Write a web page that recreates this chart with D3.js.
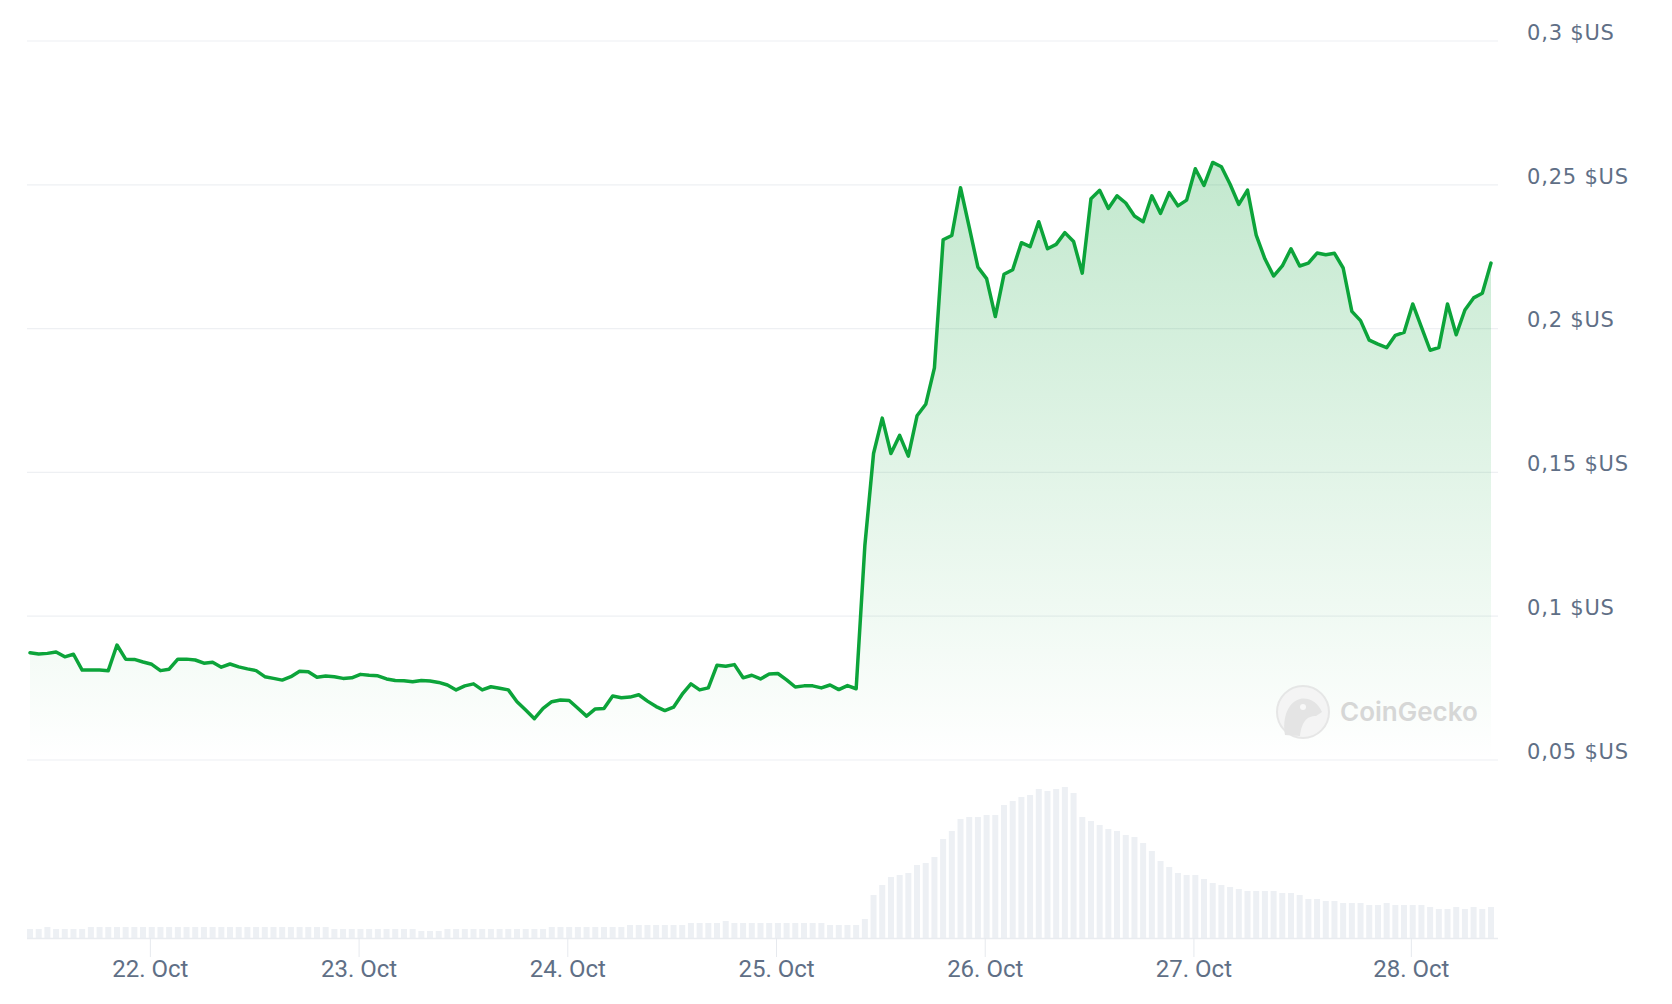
<!DOCTYPE html>
<html><head><meta charset="utf-8">
<script src="https://cdn.jsdelivr.net/npm/d3@7"></script>
<style>html,body{margin:0;padding:0;background:#fff;} svg{display:block}</style>
</head><body><svg id="chart" width="1672" height="1004"></svg>
<script>
// ---- data ----
const startTime = "2024-10-21T08:13:00Z"; // first hourly sample
const prices = [
0.0871,0.0867,0.0869,0.0874,0.0857,0.0866,0.0811,0.0811,0.0811,0.0809,
0.0898,0.0849,0.0848,0.0839,0.0831,0.0809,0.0814,0.0849,0.0849,0.0846,
0.0835,0.0838,0.0821,0.0832,0.0822,0.0815,0.0809,0.0788,0.0782,0.0776,
0.0788,0.0807,0.0805,0.0786,0.0790,0.0788,0.0782,0.0784,0.0796,0.0793,
0.0791,0.0780,0.0775,
0.0774,0.0770,0.0775,0.0773,0.0768,0.0759,0.0742,0.0756,0.0763,0.0742,
0.0753,0.0748,0.0742,0.0701,0.0672,0.0642,0.0678,0.0701,0.0707,0.0705,
0.0678,0.0651,0.0676,0.0677,0.0721,0.0715,0.0717,0.0725,0.0703,0.0684,
0.0670,0.0682,0.0727,0.0763,0.0742,0.0749,0.0828,0.0824,0.0830,0.0784,
0.0793,0.0780,0.0797,0.0799,0.0777,0.0752,0.0756,0.0756,0.0749,0.0759,
0.0743,0.0757,0.0746,
0.1244,0.1564,0.1687,0.1564,0.1627,0.1555,0.1695,0.1735,0.1862,0.2307,
0.2322,0.2488,0.2351,0.2212,0.2172,0.2040,0.2187,0.2203,0.2297,0.2283,
0.2370,0.2276,0.2291,0.2332,0.2301,0.2191,0.2450,0.2479,0.2416,0.2460,
0.2435,0.2390,0.2370,0.2460,0.2399,0.2471,0.2425,0.2445,0.2554,0.2496,
0.2576,0.2561,0.2500,0.2430,0.2480,0.2323,0.2241,0.2181,0.2216,0.2276,
0.2216,0.2226,0.2261,0.2255,0.2260,0.2209,0.2058,0.2026,0.1958,0.1944,
0.1932,0.1975,0.1985,0.2084,0.2003,0.1923,0.1932,0.2084,0.1977,0.2063,
0.2105,0.2121,0.2226
];
const volumes = [
9,9,11,9,9,9,9,
11,11,11,11,11,11,11,11,11,11,11,11,11,11,11,11,11,11,11,11,11,11,11,11,11,11,11,11,
9,9,9,9,9,9,9,9,9,9,
7,7,7,
9,9,9,9,9,9,9,9,9,9,9,9,
11,11,11,11,11,11,11,11,11,
13,13,13,13,13,13,13,
15,15,15,15,17,15,15,15,15,
15,15,15,15,15,15,15,
13,13,13,13,
19,43,53,61,63,65,73,75,81,99,
107,119,121,121,123,123,133,137,141,143,
149,147,149,151,145,121,117,113,109,107,
103,101,95,87,77,71,65,63,63,59,
55,53,51,49,47,47,47,47,45,45,
43,39,39,37,37,35,35,35,33,33,
35,33,33,33,33,31,29,29,31,29,
31,29,31
];
const yTickValues = [0.05, 0.1, 0.15, 0.2, 0.25, 0.3];
const yTickLabels = ["0,05 $US", "0,1 $US", "0,15 $US", "0,2 $US", "0,25 $US", "0,3 $US"];
const xTickDates = ["2024-10-21T22:00:00Z","2024-10-22T22:00:00Z","2024-10-23T22:00:00Z",
  "2024-10-24T22:00:00Z","2024-10-25T22:00:00Z","2024-10-26T22:00:00Z","2024-10-27T23:00:00Z"];
const xTickLabels = ["22. Oct","23. Oct","24. Oct","25. Oct","26. Oct","27. Oct","28. Oct"];
const watermarkText = "CoinGecko";

// ---- layout ----
const gridLeft = 27, gridRight = 1498;
const lineLeft = 30, lineRight = 1491;
const priceTop = 40.5, priceBottom = 759.5;
const volBase = 938, volTop = 787;
const green = "#0ca43a";

const svg = d3.select("#chart");
const t0 = new Date(startTime);
const times = prices.map((_, i) => d3.utcHour.offset(t0, i));
const data = prices.map((p, i) => ({t: times[i], p, v: volumes[i]}));

const x = d3.scaleUtc().domain([times[0], times[times.length - 1]]).range([lineLeft, lineRight]);
const y = d3.scaleLinear().domain([0.05, 0.3]).range([priceBottom, priceTop]);
const yv = d3.scaleLinear().domain([0, 151]).range([volBase, volTop]);

// gradient
const defs = svg.append("defs");
const grad = defs.append("linearGradient").attr("id", "areaGrad")
  .attr("gradientUnits", "userSpaceOnUse").attr("x1", 0).attr("x2", 0)
  .attr("y1", y(0.3)).attr("y2", y(0.05));
grad.append("stop").attr("offset", "0%").attr("stop-color", green).attr("stop-opacity", 0.3);
grad.append("stop").attr("offset", "100%").attr("stop-color", green).attr("stop-opacity", 0.0);

// gridlines + y labels
const yAxis = d3.axisRight(y).tickValues(yTickValues)
  .tickFormat((d, i) => yTickLabels[i]).tickSize(-(gridRight - gridLeft)).tickPadding(29);
const gy = svg.append("g").attr("transform", `translate(${gridRight},0)`).call(yAxis);
gy.select(".domain").remove();
gy.selectAll(".tick line").attr("stroke", "#eef0f3").attr("stroke-width", 1.2);
gy.selectAll(".tick text").attr("fill", "#5f6f86").attr("y", -8)
  .style("font-family", "'DejaVu Sans', sans-serif").style("font-size", "21px").style("letter-spacing", "0.8px");

// volume bars
svg.append("g").selectAll("rect").data(data).join("rect")
  .attr("x", d => x(d.t) - 3).attr("width", 6)
  .attr("y", d => yv(d.v)).attr("height", d => volBase - yv(d.v))
  .attr("fill", "#edf0f4");

// x axis
svg.append("line").attr("x1", gridLeft).attr("x2", gridRight).attr("y1", volBase + 0.5).attr("y2", volBase + 0.5)
  .attr("stroke", "#e9ecf0").attr("stroke-width", 1.5);
const xAxis = d3.axisBottom(x).tickValues(xTickDates.map(s => new Date(s)))
  .tickFormat((d, i) => xTickLabels[i]).tickSize(19).tickPadding(3);
const gx = svg.append("g").attr("transform", `translate(0,${volBase})`).call(xAxis);
gx.select(".domain").remove();
gx.selectAll(".tick line").attr("stroke", "#e6e9ee").attr("stroke-width", 1);
gx.selectAll(".tick text").attr("fill", "#5f6f86")
  .style("font-family", "Roboto, sans-serif").style("font-size", "24px");

// area
const area = d3.area().x(d => x(d.t)).y0(y(0.05)).y1(d => y(d.p));
svg.append("path").datum(data).attr("d", area).attr("fill", "url(#areaGrad)");

// watermark
const wm = svg.append("g").attr("opacity", 0.9);
wm.append("circle").attr("cx", 1303).attr("cy", 712).attr("r", 26)
  .attr("fill", "#f4f4f4").attr("stroke", "#e4e4e4").attr("stroke-width", 2);
wm.append("path").attr("d", "M1285,735 C1282,718 1288,702 1300,699 C1310,697 1318,703 1322,712 L1316,716 C1308,716 1302,720 1300,736 Z")
  .attr("fill", "#e2e2e2");
wm.append("circle").attr("cx", 1303).attr("cy", 707).attr("r", 3).attr("fill", "#f8f8f8");
wm.append("text").attr("x", 1340).attr("y", 712).attr("dy", "0.35em").text(watermarkText)
  .attr("fill", "#d3d3d3").style("font-family", "Inter, sans-serif").style("font-weight", 600).style("font-size", "26px");

// line
const line = d3.line().x(d => x(d.t)).y(d => y(d.p));
svg.append("path").datum(data).attr("d", line).attr("fill", "none")
  .attr("stroke", green).attr("stroke-width", 3.5).attr("stroke-linejoin", "round").attr("stroke-linecap", "round");
</script></body></html>
